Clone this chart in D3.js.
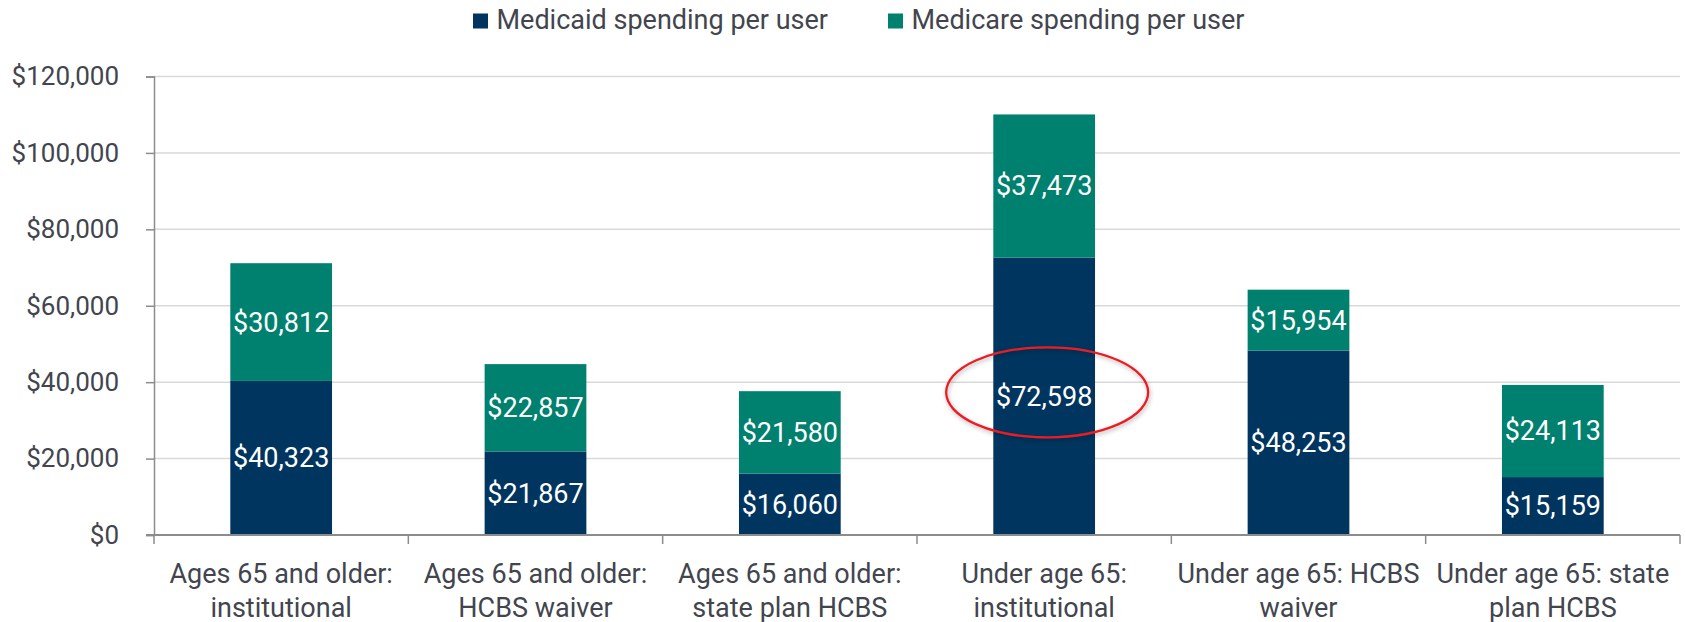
<!DOCTYPE html>
<html lang="en">
  <head>
    <meta charset="UTF-8" />
    <title>Medicaid and Medicare spending per user</title>
    <script src="https://d3js.org/d3.v7.min.js"></script>
    <style>
      body {
        margin: 0;
        padding: 0;
        background: #fff;
        font-family: Roboto, "Noto Sans", Arial, sans-serif;
      }
      svg {
        display: block;
      }
      .axis text {
        font-family: Roboto, "Noto Sans", Arial, sans-serif;
        font-size: 27px;
        fill: #42454e;
      }
      .axis.y-axis text {
        font-size: 26px;
      }
    </style>
  </head>
  <body>
    <svg width="1686" height="622"></svg>
    <script>
      // data
      const categories = [
        "Ages 65 and older: institutional",
        "Ages 65 and older: HCBS waiver",
        "Ages 65 and older: state plan HCBS",
        "Under age 65: institutional",
        "Under age 65: HCBS waiver",
        "Under age 65: state plan HCBS",
      ];
      const categoryLines = [
        ["Ages 65 and older:", "institutional"],
        ["Ages 65 and older:", "HCBS waiver"],
        ["Ages 65 and older:", "state plan HCBS"],
        ["Under age 65:", "institutional"],
        ["Under age 65: HCBS", "waiver"],
        ["Under age 65: state", "plan HCBS"],
      ];
      const medicaid = [40323, 21867, 16060, 72598, 48253, 15159];
      const medicare = [30812, 22857, 21580, 37473, 15954, 24113];
      const seriesNames = ["Medicaid spending per user", "Medicare spending per user"];
      const yTicks = [0, 20000, 40000, 60000, 80000, 100000, 120000];
      const highlighted = "Under age 65: institutional";

      const colors = ["#00355f", "#00806e"];
      const margin = { top: 76.5, right: 6, bottom: 87, left: 154 };
      const width = 1686 - margin.left - margin.right;
      const height = 622 - margin.top - margin.bottom;

      const svg = d3.select("svg");
      const g = svg
        .append("g")
        .attr("transform", `translate(${margin.left},${margin.top})`);

      const x = d3
        .scaleBand()
        .domain(categories)
        .range([0, width])
        .paddingInner(0.6)
        .paddingOuter(0.3);
      const y = d3.scaleLinear().domain([0, 120000]).range([height, 0]);

      // stacked rows
      const rows = categories.map((c, i) => ({
        category: c,
        medicaid: medicaid[i],
        medicare: medicare[i],
      }));
      const stack = d3.stack().keys(["medicaid", "medicare"]);
      const layers = stack(rows);

      // gridlines
      g.append("g")
        .selectAll("line")
        .data(yTicks.filter((t) => t > 0))
        .join("line")
        .attr("x1", 0)
        .attr("x2", width)
        .attr("y1", (d) => y(d))
        .attr("y2", (d) => y(d))
        .attr("stroke", "#d9d9d9")
        .attr("stroke-width", 1.5);

      // bars
      layers.forEach((layer, li) => {
        g.append("g")
          .selectAll("rect")
          .data(layer)
          .join("rect")
          .attr("x", (d) => x(d.data.category))
          .attr("width", x.bandwidth())
          .attr("y", (d) => y(d[1]))
          .attr("height", (d) => y(d[0]) - y(d[1]))
          .attr("fill", colors[li]);

        g.append("g")
          .selectAll("text")
          .data(layer)
          .join("text")
          .attr("x", (d) => x(d.data.category) + x.bandwidth() / 2)
          .attr("y", (d) => y((d[0] + d[1]) / 2))
          .attr("dy", "0.35em")
          .attr("text-anchor", "middle")
          .attr("fill", "#fff")
          .style("font-size", "27px")
          .text((d) => "$" + d3.format(",")(d[1] - d[0]));
      });

      // y axis
      const yAxis = g
        .append("g")
        .attr("class", "axis y-axis")
        .call(
          d3
            .axisLeft(y)
            .tickValues(yTicks)
            .tickSize(8)
            .tickPadding(27)
            .tickFormat((d) => "$" + d3.format(",")(d))
        );
      yAxis.select(".domain").attr("stroke", "#8c8c8c").attr("stroke-width", 1.5);
      yAxis.selectAll(".tick line").attr("stroke", "#8c8c8c").attr("stroke-width", 1.5);

      // x axis: ticks at the band boundaries, two-line labels under bands
      const xAxis = g
        .append("g")
        .attr("class", "axis")
        .attr("transform", `translate(0,${height})`);
      xAxis
        .append("line")
        .attr("x1", -8)
        .attr("x2", width)
        .attr("stroke", "#8c8c8c")
        .attr("stroke-width", 2);
      const bounds = categories.map((c) => x(c) - (x.step() * x.paddingInner()) / 2);
      bounds.push(width);
      xAxis
        .selectAll(".bound")
        .data(bounds)
        .join("line")
        .attr("class", "bound")
        .attr("x1", (d) => d)
        .attr("x2", (d) => d)
        .attr("y1", 0)
        .attr("y2", 9)
        .attr("stroke", "#8c8c8c")
        .attr("stroke-width", 1.5);
      const labels = xAxis
        .selectAll(".cat")
        .data(categories)
        .join("text")
        .attr("class", "cat")
        .attr("text-anchor", "middle")
        .attr("transform", (d) => `translate(${x(d) + x.bandwidth() / 2},48)`);
      labels
        .selectAll("tspan")
        .data((d, i) => categoryLines[i])
        .join("tspan")
        .attr("x", 0)
        .attr("y", (d, i) => i * 33.5)
        .text((d) => d);

      // highlight ellipse around the under-65 institutional Medicaid value
      const defs = svg.append("defs");
      const f = defs
        .append("filter")
        .attr("id", "shadow")
        .attr("x", "-20%")
        .attr("y", "-30%")
        .attr("width", "140%")
        .attr("height", "160%");
      f.append("feDropShadow")
        .attr("dx", 1)
        .attr("dy", 2)
        .attr("stdDeviation", 2)
        .attr("flood-color", "#000")
        .attr("flood-opacity", 0.3);
      const hi = categories.indexOf(highlighted);
      g.append("ellipse")
        .attr("cx", x(highlighted) + x.bandwidth() / 2 + 3)
        .attr("cy", y(medicaid[hi] / 2) - 4)
        .attr("rx", 101)
        .attr("ry", 45)
        .attr("fill", "none")
        .attr("stroke", "#ec1c24")
        .attr("stroke-width", 2.3)
        .attr("filter", "url(#shadow)");

      // legend
      const legendX = [473, 888];
      const legend = svg
        .append("g")
        .selectAll("g")
        .data(seriesNames)
        .join("g")
        .attr("transform", (d, i) => `translate(${legendX[i]},13.5)`);
      legend
        .append("rect")
        .attr("width", 15)
        .attr("height", 15)
        .attr("fill", (d, i) => colors[i]);
      legend
        .append("text")
        .attr("x", 23.5)
        .attr("y", 15.8)
        .attr("fill", "#42454e")
        .style("font-size", "27px")
        .text((d) => d);
    </script>
  </body>
</html>
